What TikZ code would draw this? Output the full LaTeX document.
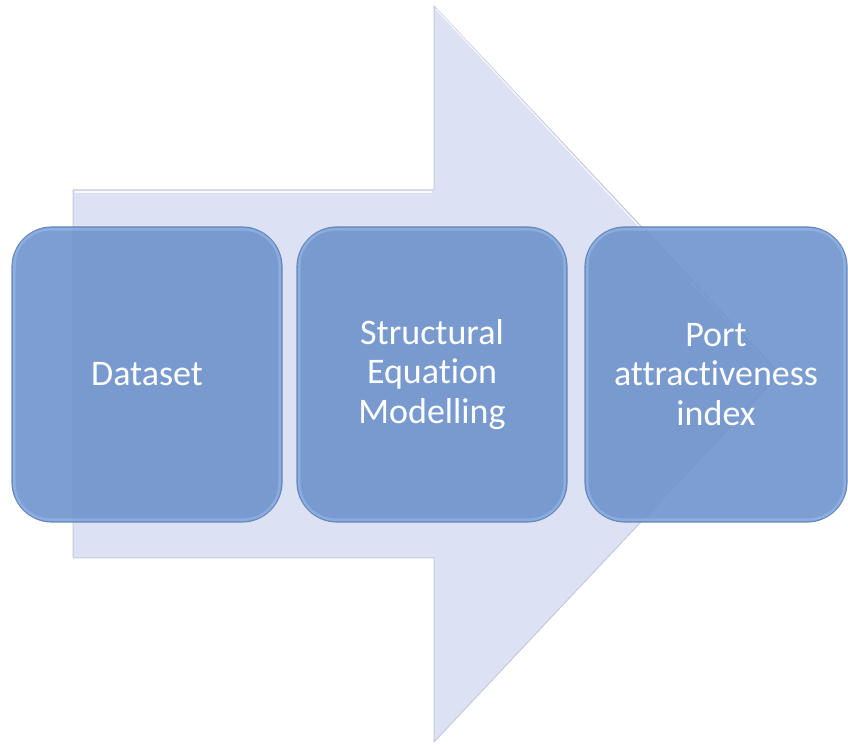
\documentclass[tikz,border=0pt]{standalone}
\usepackage{fontspec}
\setmainfont[RawFeature={-liga;-clig;-calt;-dlig}]{Carlito}
\begin{document}
\begin{tikzpicture}[x=1pt,y=1pt,
  arrowfill/.style={fill=arrowc, draw=arrowedge, line width=1pt, line join=miter},
  stepbox/.style={rounded corners=40pt, fill=boxc, fill opacity=0.9, draw=boxedge, line width=1.2pt,
    text opacity=1, text=white, font=\fontsize{36}{39.5}\selectfont, align=center,
    minimum height=295pt, inner sep=0pt},
  rim/.style={rounded corners=36pt, draw=boxrim, line width=2.5pt, opacity=0.55}
]
\definecolor{arrowc}{RGB}{220,225,244}
\definecolor{arrowedge}{RGB}{196,201,222}
\definecolor{boxc}{RGB}{110,147,204}
\definecolor{boxedge}{RGB}{110,135,180}
\definecolor{boxrim}{RGB}{150,190,245}
\useasboundingbox (0,0) rectangle (848,744);
% big arrow
\path[arrowfill] (73,554) -- (434,554) -- (434,738) -- (780,370) -- (434,2) -- (434,186) -- (73,186) -- cycle;
\draw[white, line width=1.2pt, opacity=0.8] (75,552) -- (432,552);
\draw[white, line width=1.2pt, opacity=0.8] (436,735) -- (777,370);
% boxes
\node[stepbox, minimum width=270pt] (b1) at (147,369.5) {Dataset};
\node[stepbox, minimum width=270pt] (b2) at (432,369.5) {Structural\\Equation\\Modelling};
\node[stepbox, minimum width=262pt] (b3) at (716,369.5) {Port\\attractiveness\\index};
\foreach \b in {b1,b2,b3}{
  \draw[rim] ([xshift=3pt,yshift=3pt]\b.south west) rectangle ([xshift=-3pt,yshift=-3pt]\b.north east);
}
\end{tikzpicture}
\end{document}
